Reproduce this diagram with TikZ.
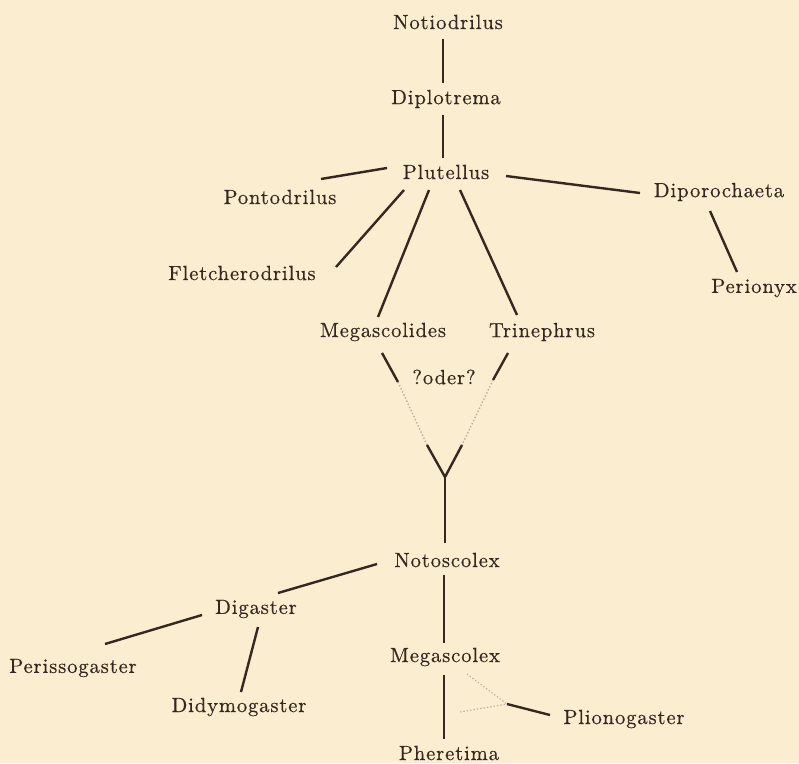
\documentclass[tikz,border=0pt]{standalone}
\usepackage{fontspec}
\newfontfamily\lmten{lmroman10-regular}[Extension=.otf, LetterSpace=4.5, FakeBold=0.5]
\definecolor{paper}{RGB}{250,237,208}
\definecolor{ink}{RGB}{52,40,32}
\definecolor{faint}{RGB}{190,175,155}
\tikzset{
  taxon/.style={text=ink, inner sep=0pt, anchor=center,
    font=\lmten\fontsize{20.5}{24}\selectfont},
  link/.style={draw=ink, line width=2.4pt},
  doubt/.style={draw=faint, line width=1.4pt, dotted},
}
\begin{document}
\begin{tikzpicture}[x=1pt,y=-1pt]
\fill[paper] (0,0) rectangle (799,763);
\useasboundingbox (0,0) rectangle (799,763);

% taxa
\node[taxon] (notio) at (448,22) {Notiodrilus};
\node[taxon] (diplo) at (446,99) {Diplotrema};
\node[taxon] (plut) at (446,172) {Plutellus};
\node[taxon] (ponto) at (280,197) {Pontodrilus};
\node[taxon] (dipo) at (719,192) {Diporochaeta};
\node[taxon] (fletch) at (242,273) {Fletcherodrilus};
\node[taxon] (perio) at (754,288) {Perionyx};
\node[taxon] (mides) at (383,332) {Megascolides};
\node[taxon] (trin) at (542,332) {Trinephrus};
\node[taxon] (oder) at (444,377) {?oder?};
\node[taxon] (noto) at (447,560) {Notoscolex};
\node[taxon] (digas) at (256,609) {Digaster};
\node[taxon] (peris) at (73,668) {Perissogaster};
\node[taxon] (didym) at (239,707) {Didymogaster};
\node[taxon] (mlex) at (445,657) {Megascolex};
\node[taxon] (plion) at (624,719) {Plionogaster};
\node[taxon] (pher) at (449,753) {Pheretima};

% connector end points
\coordinate (a1) at (443,39);  \coordinate (a2) at (443,83);
\coordinate (b1) at (443,115); \coordinate (b2) at (443,158);
\coordinate (c1) at (387,168); \coordinate (c2) at (321,179);
\coordinate (d1) at (506,176); \coordinate (d2) at (640,193);
\coordinate (e1) at (404,190); \coordinate (e2) at (336,267);
\coordinate (f1) at (429,190); \coordinate (f2) at (378,317);
\coordinate (g1) at (460,190); \coordinate (g2) at (517,315);
\coordinate (h1) at (710,211); \coordinate (h2) at (737,272);
\coordinate (m1) at (382,353); \coordinate (m2) at (398,382);
\coordinate (m3) at (427,445); \coordinate (fork) at (445,477);
\coordinate (t1) at (508,353); \coordinate (t2) at (493,380);
\coordinate (t3) at (462,445);
\coordinate (n1) at (445,543);
\coordinate (p1) at (377,564); \coordinate (p2) at (278,593);
\coordinate (q1) at (202,615); \coordinate (q2) at (105,644);
\coordinate (r1) at (258,627); \coordinate (r2) at (241,692);
\coordinate (s1) at (444,575); \coordinate (s2) at (444,643);
\coordinate (u1) at (444,675); \coordinate (u2) at (444,739);
\coordinate (v1) at (467,674); \coordinate (v2) at (460,712);
\coordinate (vj) at (507,704); \coordinate (v3) at (550,715);

% connectors
\draw[link] (a1) -- (a2);
\draw[link] (b1) -- (b2);
\draw[link] (c1) -- (c2);
\draw[link] (d1) -- (d2);
\draw[link] (e1) -- (e2);
\draw[link] (f1) -- (f2);
\draw[link] (g1) -- (g2);
\draw[link] (h1) -- (h2);
\draw[link] (m1) -- (m2);
\draw[doubt] (m2) -- (m3);
\draw[link] (m3) -- (fork);
\draw[link] (t1) -- (t2);
\draw[doubt] (t2) -- (t3);
\draw[link] (t3) -- (fork);
\draw[link] (fork) -- (n1);
\draw[link] (p1) -- (p2);
\draw[link] (q1) -- (q2);
\draw[link] (r1) -- (r2);
\draw[link] (s1) -- (s2);
\draw[link] (u1) -- (u2);
\draw[doubt, line width=1.1pt] (v1) -- (vj);
\draw[doubt, line width=1.1pt] (v2) -- (vj);
\draw[link] (vj) -- (v3);
\end{tikzpicture}
\end{document}
